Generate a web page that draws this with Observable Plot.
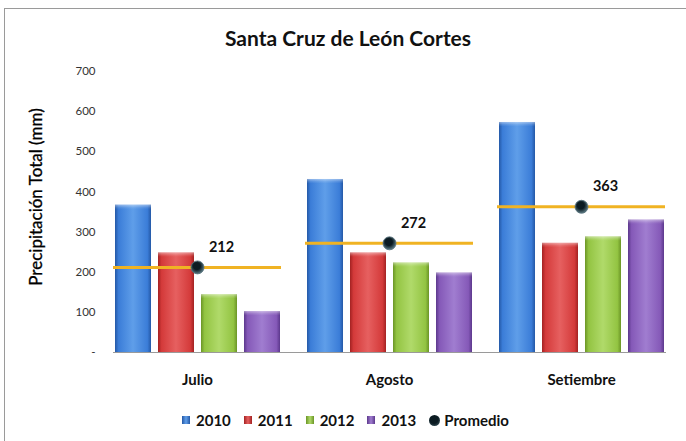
<!DOCTYPE html>
<html><head><meta charset="utf-8">
<script src="https://cdn.jsdelivr.net/npm/d3@7"></script>
<script src="https://cdn.jsdelivr.net/npm/@observablehq/plot@0.6"></script>
<style>
body{margin:0;background:#fff;font-family:Lato,"Open Sans",sans-serif}
#wrap{position:relative;width:686px;height:441px;overflow:hidden;background:#fff}
#frame{position:absolute;left:4px;top:8px;width:800px;height:600px;border-top:1px solid #9a9a9a;border-left:1px solid #9a9a9a;box-sizing:border-box}
#title{position:absolute;left:5px;width:686px;top:25px;text-align:center;font:700 21px Lato,sans-serif;color:#111}
#ytitle{position:absolute;left:35px;top:197px;transform:translate(-50%,-50%) rotate(-90deg);white-space:nowrap;font:400 17px Lato,sans-serif;color:#000;-webkit-text-stroke:0.3px #000}
#chart{position:absolute;left:0;top:0}
#legend{position:absolute;left:182px;top:411px;height:18px;display:flex;align-items:center;font:700 15px Lato,sans-serif;color:#111}
#legend .sw{width:8px;height:8px;margin-right:6px}
#legend .it{display:flex;align-items:center;margin-right:13px}
#legend .dot{width:11px;height:11px;border-radius:50%;background:radial-gradient(circle at 45% 40%,#0b1b22 45%,#4d6a74 100%);margin-right:4px}
</style>
</head><body>
<div id="wrap">
  <div id="frame"></div>
  <div id="chart"></div>
  <div id="title">Santa Cruz de León Cortes</div>
  <div id="ytitle">Precipitación Total (mm)</div>
  <div id="legend"></div>
</div>
<script>
const months = ["Julio", "Agosto", "Setiembre"];
const years = ["2010", "2011", "2012", "2013"];
const v2010 = [367, 431, 573];
const v2011 = [248, 248, 272];
const v2012 = [144, 223, 288];
const v2013 = [102, 198, 330];
const promedio = [212, 272, 363];
const yTicks = [0, 100, 200, 300, 400, 500, 600, 700];
const promedioLabel = "Promedio";

const colors = {
  "2010": ["#2458a6", "#3b7dd8", "#5f9ee9"],
  "2011": ["#a32222", "#d43a3a", "#e66060"],
  "2012": ["#6b9526", "#93c442", "#b0da6a"],
  "2013": ["#5c388c", "#8559b8", "#a07dd0"]
};

const series = [v2010, v2011, v2012, v2013];
const data = [];
months.forEach((m, i) => years.forEach((y, j) => data.push({month: m, year: y, value: series[j][i]})));
const avgData = months.map((m, i) => ({month: m, value: promedio[i]}));

const plot = Plot.plot({
  width: 686, height: 400,
  marginLeft: 100, marginRight: 9, marginTop: 71, marginBottom: 48,
  style: {background: "transparent", fontFamily: "Lato, sans-serif", color: "#222", overflow: "visible"},
  y: {domain: [0, 700]},
  fx: {domain: months, paddingInner: 0.127, paddingOuter: 0.0635, label: null},
  x: {domain: years, paddingInner: 0.17, paddingOuter: 0, axis: null},
  color: {domain: years, range: years.map(y => `url(#grad${y})`)},
  marks: [
    Plot.barY(data, {fx: "month", x: "year", y: "value", fill: "year"}),
    Plot.barY(data, {fx: "month", x: "year", y1: d => d.value - 11, y2: "value", fill: "url(#bevel)"}),
    Plot.frame({facet: "super", anchor: "bottom", stroke: "#9a9a9a", strokeWidth: 1}),
    Plot.ruleY(avgData, {fx: "month", y: "value", stroke: "#f0b323", strokeWidth: 3}),
    Plot.dot(avgData, {fx: "month", y: "value", r: 6.5, fill: "url(#dotgrad)", stroke: "#56707a", strokeWidth: 0.8}),
    Plot.text(avgData, {fx: "month", y: "value", text: d => String(d.value), dx: 24, dy: -20, fontWeight: "bold", fontSize: 14.5, fill: "#111"}),
    Plot.axisY({ticks: yTicks, tickFormat: d => d === 0 ? "-" : String(d), tickSize: 0, tickPadding: 18, fontSize: 11.5, label: null, fill: "#333"}),
    Plot.axisFx({anchor: "bottom", tickSize: 0, tickPadding: 22, fontSize: 15, fontWeight: "bold", label: null, fill: "#111"})
  ]
});

const svg = d3.select(plot);
const defs = svg.insert("defs", ":first-child");
years.forEach(y => {
  const [dk, base, lt] = colors[y];
  const g = defs.append("linearGradient").attr("id", `grad${y}`).attr("x1", "0").attr("x2", "1").attr("y1", "0").attr("y2", "0");
  [[0, dk], [0.1, base], [0.5, lt], [0.9, base], [1, dk]].forEach(([o, c]) => g.append("stop").attr("offset", o).attr("stop-color", c));
});
const bv = defs.append("linearGradient").attr("id", "bevel").attr("x1", "0").attr("x2", "0").attr("y1", "0").attr("y2", "1");
bv.append("stop").attr("offset", 0).attr("stop-color", "#fff").attr("stop-opacity", 0.45);
bv.append("stop").attr("offset", 0.6).attr("stop-color", "#fff").attr("stop-opacity", 0.12);
bv.append("stop").attr("offset", 1).attr("stop-color", "#fff").attr("stop-opacity", 0);
const rg = defs.append("radialGradient").attr("id", "dotgrad").attr("cx", "0.45").attr("cy", "0.4").attr("r", "0.6");
rg.append("stop").attr("offset", 0.45).attr("stop-color", "#0b1b22");
rg.append("stop").attr("offset", 1).attr("stop-color", "#5d7c86");

document.getElementById("chart").appendChild(plot);

const legend = document.getElementById("legend");
years.forEach(y => {
  const [dk, base, lt] = colors[y];
  const it = document.createElement("div"); it.className = "it";
  const sw = document.createElement("div"); sw.className = "sw";
  sw.style.background = `linear-gradient(90deg, ${dk}, ${lt} 50%, ${dk})`;
  it.appendChild(sw);
  it.appendChild(document.createTextNode(y));
  legend.appendChild(it);
});
const it = document.createElement("div"); it.className = "it";
const dot = document.createElement("div"); dot.className = "dot";
it.appendChild(dot); it.appendChild(document.createTextNode(promedioLabel));
legend.appendChild(it);
</script>
</body></html>
